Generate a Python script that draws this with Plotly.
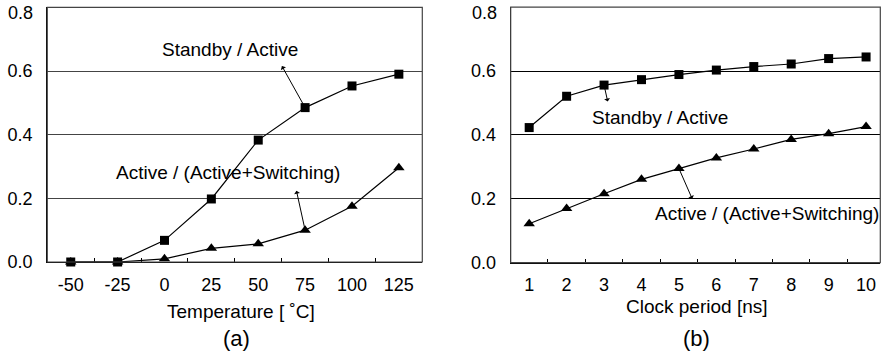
import plotly.graph_objects as go

# Panel (a): ratios versus temperature
temperature = [-50, -25, 0, 25, 50, 75, 100, 125]
standby_active_t = [0.0, 0.0, 0.068, 0.198, 0.383, 0.485, 0.553, 0.590]
active_switch_t = [0.0, 0.0, 0.010, 0.043, 0.057, 0.100, 0.175, 0.296]

# Panel (b): ratios versus clock period
clock_period = [1, 2, 3, 4, 5, 6, 7, 8, 9, 10]
standby_active_c = [0.423, 0.521, 0.556, 0.573, 0.589, 0.603, 0.614, 0.622, 0.639, 0.644]
active_switch_c = [0.122, 0.170, 0.216, 0.261, 0.295, 0.328, 0.356, 0.386, 0.404, 0.426]

y_ticks = [0.0, 0.2, 0.4, 0.6, 0.8]

FONT = "Liberation Sans, Arial, Helvetica, sans-serif"
W, H = 886, 357


def midpoints(v):
    return [(a + b) / 2 for a, b in zip(v[:-1], v[1:])]


fig = go.Figure()

line = dict(color="black", width=1.2)
series = [
    (temperature, standby_active_t, "x", "y", "square", 9),
    (clock_period, standby_active_c, "x2", "y2", "square", 9),
    (temperature, active_switch_t, "x", "y", "triangle-up", 10),
    (clock_period, active_switch_c, "x2", "y2", "triangle-up", 10),
]
for xs, ys, xa, ya, sym, sz in series:
    fig.add_trace(go.Scatter(
        x=xs, y=ys, mode="lines+markers", line=line,
        marker=dict(symbol=sym, size=sz, color="black"),
        xaxis=xa, yaxis=ya, showlegend=False, cliponaxis=False,
    ))

tickfont = dict(family=FONT, size=18, color="black")


def xaxis_cfg(domain, rng, vals, anchor):
    return dict(
        domain=domain, range=rng, tickmode="array", tickvals=vals,
        ticktext=[str(v) for v in vals], ticks="", showgrid=False,
        zeroline=False, showline=True, linecolor="black", linewidth=1.2,
        tickfont=tickfont, ticklabelstandoff=6, automargin=False, anchor=anchor,
        minor=dict(tickmode="array", tickvals=midpoints(vals), ticks="inside",
                   ticklen=4, tickcolor="black", tickwidth=1, showgrid=False),
    )


# The top label sits a little below its gridline, so it is placed separately
y_ticktext = [f"{v:.1f}" for v in y_ticks[:-1]] + [""]


def yaxis_cfg(domain, anchor, gridcolor):
    return dict(
        domain=domain, range=[0, 0.8001], tickmode="array", tickvals=y_ticks,
        ticktext=y_ticktext, ticks="", showgrid=True, gridcolor=gridcolor,
        gridwidth=1.2, zeroline=False, showline=True, linecolor="black",
        linewidth=1.2, tickfont=tickfont, ticklabelstandoff=10,
        automargin=False, anchor=anchor,
    )


fig.update_layout(
    width=W, height=H, margin=dict(l=0, r=0, t=0, b=0, pad=0, autoexpand=False),
    paper_bgcolor="white", plot_bgcolor="white",
    xaxis=xaxis_cfg([47.3 / W, 422.3 / W], [-62.5, 137.5], temperature, "y"),
    yaxis=yaxis_cfg([(H - 262) / H, (H - 7.3) / H], "x", "#444444"),
    xaxis2=xaxis_cfg([510.7 / W, 880.3 / W], [0.506, 10.38], clock_period, "y2"),
    yaxis2=yaxis_cfg([(H - 262.7) / H, (H - 7.1) / H], "x2", "black"),
)

# Frame around each panel
for xr, yr in [("x domain", "y domain"), ("x2 domain", "y2 domain")]:
    fig.add_shape(type="rect", xref=xr, yref=yr, x0=0, x1=1, y0=0, y1=1,
                  line=dict(color="#444444", width=1.2), layer="above")

# Top y labels
for px in (35.3, 498.7):
    fig.add_annotation(xref="paper", yref="paper", x=px / W, y=(H - 13.3) / H,
                       text=f"{y_ticks[-1]:.1f}", showarrow=False, font=tickfont,
                       xanchor="right", yanchor="middle")

label_font = dict(family=FONT, size=19, color="black")

# Curve labels
labels = [
    ("x", "y", 35, 0.668, "Standby / Active"),
    ("x", "y", 33.9, 0.28, "Active / (Active+Switching)"),
    ("x2", "y2", 4.49, 0.455, "Standby / Active"),
    ("x2", "y2", 7.34, 0.155, "Active / (Active+Switching)"),
]
for xr, yr, x, y, txt in labels:
    fig.add_annotation(xref=xr, yref=yr, x=x, y=y, text=txt, showarrow=False,
                       font=label_font, xanchor="center", yanchor="middle")

# Pointer arrows from a curve point toward its label (head at label end)
pointers = [
    ("x", "y", temperature[5], standby_active_t[5], -24, -43),
    ("x", "y", temperature[5], active_switch_t[5], -9, -41),
    ("x2", "y2", clock_period[2], standby_active_c[2], 4, 18),
    ("x2", "y2", clock_period[4], active_switch_c[4], 14, 32),
]
for xr, yr, x, y, dx, dy in pointers:
    fig.add_annotation(xref=xr, yref=yr, x=x, y=y, ax=dx, ay=dy, text="",
                       showarrow=True, arrowside="start", arrowhead=2,
                       arrowsize=1.5, arrowwidth=1, arrowcolor="black")

# Axis titles and panel tags
title_font = dict(family=FONT, size=19, color="black")
tag_font = dict(family=FONT, size=22, color="black")
texts = [
    (241.3, 311.7, "Temperature [ ˚C]", title_font),
    (236.7, 338.3, "(a)", tag_font),
    (697.3, 306.7, "Clock period [ns]", title_font),
    (696.3, 338.3, "(b)", tag_font),
]
for px, py, txt, f in texts:
    fig.add_annotation(xref="paper", yref="paper", x=px / W, y=(H - py) / H,
                       text=txt, showarrow=False, font=f,
                       xanchor="center", yanchor="middle")

fig.write_html("out.html")
